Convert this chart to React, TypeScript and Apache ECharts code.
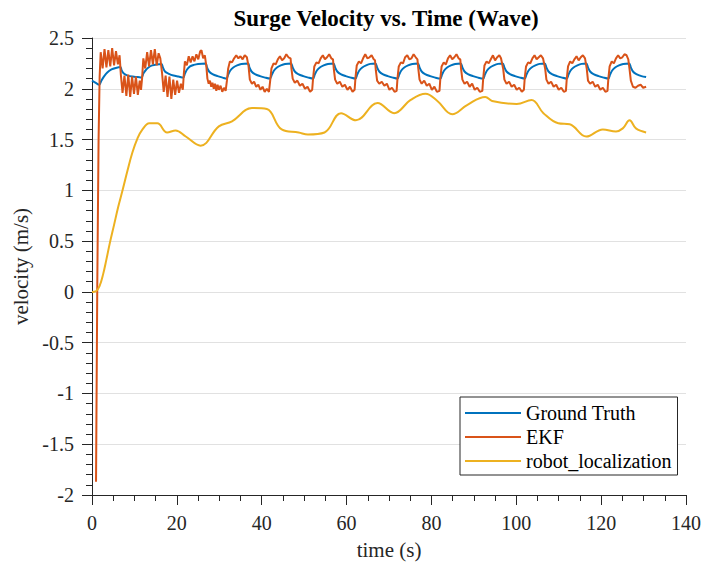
import React, { useEffect, useRef } from "react";
import * as echarts from "echarts";

const FONT = '"Liberation Serif", "Times New Roman", serif';

const seriesNames = ["Ground Truth", "EKF", "robot_localization"];
const seriesColors = ["#0072BD", "#D95319", "#EDB120"];

const gtPoints: [number, number][] = [
  [0, 2.08], [0.8, 2.06], [1.7, 2.04], [2.2, 2.08], [2.8, 2.12], [3.6, 2.16], [4.6, 2.19], [5.6, 2.205], [6.7, 2.215],
  [7.0, 2.18], [7.5, 2.15], [8.4, 2.13], [9.6, 2.12], [10.8, 2.115], [11.7, 2.11],
  [12.1, 2.15], [12.6, 2.18], [13.3, 2.21], [14.2, 2.23], [15.2, 2.24], [16.4, 2.245], [16.7, 2.21], [17.2, 2.17], [18.0, 2.15], [19.2, 2.13], [20.4, 2.12], [21.5, 2.11],
  [21.9, 2.15], [22.4, 2.19], [23.1, 2.22], [24.0, 2.235], [25.0, 2.245], [26.8, 2.25], [27.1, 2.21], [27.6, 2.17], [28.4, 2.145], [29.6, 2.125], [30.8, 2.11], [31.7, 2.1],
  [32.1, 2.14], [32.6, 2.18], [33.3, 2.21], [34.2, 2.23], [35.2, 2.245], [36.8, 2.25], [37.1, 2.21], [37.6, 2.17], [38.4, 2.145], [39.6, 2.125], [40.8, 2.11], [41.9, 2.1],
  [42.4, 2.14], [42.9, 2.18], [43.6, 2.21], [44.5, 2.23], [45.5, 2.245], [46.9, 2.25], [47.3, 2.21], [47.8, 2.17], [48.6, 2.145], [49.8, 2.125], [51.0, 2.11], [52.1, 2.1],
  [52.5, 2.14], [53.0, 2.18], [53.7, 2.21], [54.6, 2.23], [55.6, 2.245], [56.9, 2.25], [57.3, 2.21], [57.8, 2.17], [58.6, 2.145], [59.8, 2.125], [61.0, 2.11], [62.1, 2.1],
  [62.5, 2.14], [63.0, 2.18], [63.7, 2.21], [64.6, 2.23], [65.6, 2.245], [66.8, 2.25], [67.2, 2.21], [67.7, 2.17], [68.5, 2.145], [69.7, 2.125], [70.9, 2.11], [72.0, 2.1],
  [72.4, 2.14], [72.9, 2.18], [73.6, 2.21], [74.5, 2.23], [75.5, 2.245], [76.8, 2.25], [77.2, 2.21], [77.7, 2.17], [78.5, 2.145], [79.7, 2.125], [80.9, 2.11], [82.1, 2.1],
  [82.5, 2.14], [83.0, 2.18], [83.7, 2.21], [84.6, 2.23], [85.6, 2.245], [86.9, 2.25], [87.3, 2.21], [87.8, 2.17], [88.6, 2.145], [89.8, 2.125], [91.0, 2.11], [92.2, 2.1],
  [92.6, 2.14], [93.1, 2.18], [93.8, 2.21], [94.7, 2.23], [95.7, 2.245], [96.8, 2.25], [97.2, 2.21], [97.7, 2.17], [98.5, 2.145], [99.7, 2.125], [100.9, 2.11], [102.0, 2.1],
  [102.4, 2.14], [102.9, 2.18], [103.6, 2.21], [104.5, 2.23], [105.5, 2.245], [106.7, 2.25], [107.1, 2.21], [107.6, 2.17], [108.4, 2.145], [109.6, 2.125], [110.8, 2.11], [111.9, 2.1],
  [112.3, 2.14], [112.8, 2.18], [113.5, 2.21], [114.4, 2.23], [115.4, 2.245], [116.5, 2.25], [116.9, 2.21], [117.4, 2.17], [118.2, 2.145], [119.4, 2.125], [120.6, 2.11], [121.7, 2.1],
  [122.1, 2.14], [122.6, 2.18], [123.3, 2.21], [124.2, 2.23], [125.2, 2.245], [126.6, 2.25], [127.0, 2.21], [127.5, 2.17], [128.3, 2.145], [129.5, 2.125], [130.6, 2.115],
];

const ekfPoints: [number, number][] = [
  [0.95, -1.87], [1.25, 0.1], [1.55, 1.5], [1.8, 2.12],
  [2.05, 2.36], [2.5, 2.2], [2.95, 2.39], [3.4, 2.21], [3.85, 2.38], [4.3, 2.22], [4.75, 2.4], [5.2, 2.23], [5.65, 2.37], [6.1, 2.24], [6.5, 2.33],
  [6.8, 2.14], [7.2, 1.96], [7.65, 2.13], [8.1, 1.93], [8.55, 2.14], [9.0, 1.92], [9.45, 2.12], [9.9, 1.95], [10.35, 2.12], [10.8, 1.94], [11.25, 2.08], [11.55, 1.99],
  [11.8, 2.1], [12.1, 2.3], [12.55, 2.2], [13.0, 2.36], [13.45, 2.22], [13.9, 2.38], [14.35, 2.24], [14.8, 2.39], [15.25, 2.23], [15.7, 2.35], [16.1, 2.3],
  [16.5, 2.16], [16.9, 1.97], [17.35, 2.13], [17.8, 1.92], [18.25, 2.12], [18.7, 1.9], [19.15, 2.09], [19.6, 1.94], [20.05, 2.08], [20.5, 1.96], [20.95, 2.05], [21.4, 1.99],
  [21.65, 2.15], [21.9, 2.27], [22.35, 2.23], [22.8, 2.32], [23.25, 2.26], [23.7, 2.32], [24.15, 2.27], [24.6, 2.34], [25.05, 2.29], [25.5, 2.37], [25.8, 2.38], [26.2, 2.3], [26.6, 2.33], [26.95, 2.22],
  [27.2, 2.1], [27.5, 2.05], [27.8, 2.08], [28.1, 2.02], [28.4, 2.06], [28.7, 2.0], [29.0, 2.05], [29.3, 1.98], [29.6, 2.04], [29.9, 1.99], [30.3, 2.03], [30.7, 1.97], [31.1, 2.01], [31.5, 1.98],
  [31.8, 2.08], [32.1, 2.2], [32.5, 2.27], [33.0, 2.26], [33.5, 2.3], [34.0, 2.33], [34.5, 2.3], [35.0, 2.32], [35.5, 2.29], [36.0, 2.33], [36.5, 2.31], [36.9, 2.22],
  [37.2, 2.09], [37.7, 2.05], [38.2, 2.07], [38.7, 2.02], [39.2, 2.04], [39.7, 1.99], [40.2, 2.02], [40.7, 1.97], [41.2, 2.0], [41.7, 1.97],
  [42.0, 2.08], [42.3, 2.2], [42.8, 2.25], [43.3, 2.24], [43.8, 2.29], [44.3, 2.32], [44.8, 2.28], [45.3, 2.3], [45.8, 2.34], [46.3, 2.31], [46.8, 2.3], [47.0, 2.2],
  [47.3, 2.1], [47.8, 2.06], [48.4, 2.08], [49.0, 2.03], [49.6, 2.05], [50.2, 2.0], [50.8, 2.02], [51.4, 1.97], [51.9, 1.99],
  [52.1, 2.1], [52.4, 2.22], [52.9, 2.26], [53.4, 2.25], [53.9, 2.3], [54.4, 2.33], [54.9, 2.29], [55.4, 2.31], [55.9, 2.34], [56.4, 2.3], [56.8, 2.29], [57.0, 2.19],
  [57.3, 2.09], [57.8, 2.05], [58.4, 2.07], [59.0, 2.02], [59.6, 2.04], [60.2, 1.99], [60.8, 2.02], [61.4, 1.97], [61.9, 1.99],
  [62.1, 2.11], [62.4, 2.23], [62.9, 2.27], [63.4, 2.25], [63.9, 2.3], [64.4, 2.34], [64.9, 2.3], [65.4, 2.31], [65.9, 2.33], [66.4, 2.29], [66.7, 2.28], [66.9, 2.18],
  [67.2, 2.08], [67.7, 2.05], [68.3, 2.07], [68.9, 2.03], [69.5, 2.05], [70.1, 1.99], [70.7, 2.01], [71.3, 1.97], [71.8, 1.98],
  [72.0, 2.1], [72.3, 2.22], [72.8, 2.26], [73.3, 2.25], [73.8, 2.31], [74.3, 2.33], [74.8, 2.29], [75.3, 2.3], [75.8, 2.34], [76.3, 2.31], [76.7, 2.29], [76.9, 2.2],
  [77.2, 2.09], [77.7, 2.05], [78.3, 2.08], [78.9, 2.03], [79.5, 2.05], [80.1, 1.99], [80.7, 2.02], [81.3, 1.97], [81.9, 1.98],
  [82.1, 2.1], [82.4, 2.22], [82.9, 2.26], [83.4, 2.24], [83.9, 2.3], [84.4, 2.33], [84.9, 2.29], [85.4, 2.31], [85.9, 2.34], [86.4, 2.3], [86.8, 2.29], [87.0, 2.19],
  [87.3, 2.09], [87.8, 2.05], [88.4, 2.07], [89.0, 2.02], [89.6, 2.05], [90.2, 1.99], [90.8, 2.01], [91.4, 1.97], [92.0, 1.98],
  [92.2, 2.1], [92.5, 2.23], [93.0, 2.27], [93.5, 2.25], [94.0, 2.29], [94.5, 2.33], [95.0, 2.28], [95.5, 2.31], [96.0, 2.33], [96.4, 2.3], [96.9, 2.2],
  [97.2, 2.09], [97.7, 2.05], [98.3, 2.07], [98.9, 2.02], [99.5, 2.04], [100.1, 1.99], [100.7, 2.01], [101.3, 1.97], [101.8, 1.99],
  [102.0, 2.11], [102.3, 2.22], [102.8, 2.26], [103.3, 2.25], [103.8, 2.3], [104.3, 2.33], [104.8, 2.29], [105.3, 2.31], [105.8, 2.33], [106.3, 2.3], [106.8, 2.2],
  [107.1, 2.09], [107.6, 2.05], [108.2, 2.07], [108.8, 2.02], [109.4, 2.04], [110.0, 1.99], [110.6, 2.01], [111.2, 1.97], [111.7, 1.98],
  [111.9, 2.1], [112.2, 2.22], [112.7, 2.27], [113.2, 2.25], [113.7, 2.29], [114.2, 2.32], [114.7, 2.28], [115.2, 2.31], [115.7, 2.33], [116.2, 2.3], [116.6, 2.2],
  [116.9, 2.08], [117.4, 2.05], [118.0, 2.07], [118.6, 2.02], [119.2, 2.04], [119.8, 1.99], [120.4, 2.01], [121.0, 1.97], [121.5, 1.98],
  [121.7, 2.1], [122.0, 2.22], [122.5, 2.27], [123.0, 2.25], [123.5, 2.3], [124.0, 2.33], [124.5, 2.3], [125.0, 2.31], [125.5, 2.34], [126.0, 2.33], [126.4, 2.29], [126.7, 2.19],
  [127.0, 2.08], [127.5, 2.02], [128.1, 2.01], [128.7, 2.03], [129.3, 2.04], [129.9, 2.01], [130.6, 2.02],
];

const rlPoints: [number, number][] = [
  [0, 0.0], [0.9, 0.005], [1.8, 0.06], [2.6, 0.17], [3.4, 0.32], [4.2, 0.48], [5.2, 0.66], [6.2, 0.84], [7.2, 1.0], [8.4, 1.2],
  [9.5, 1.37], [10.7, 1.51], [11.9, 1.6], [13.5, 1.66],
  [15.4, 1.66], [17.7, 1.57], [19.7, 1.59], [22.1, 1.53], [25.6, 1.44], [29.9, 1.63], [33.0, 1.68], [37.7, 1.81], [41.2, 1.8],
  [44.7, 1.6], [48.7, 1.57], [50.9, 1.55], [54.8, 1.57], [58.7, 1.76], [62.2, 1.69], [67.3, 1.86], [71.2, 1.76], [75.1, 1.89],
  [78.6, 1.95], [81.4, 1.88], [84.9, 1.75], [88.4, 1.84], [92.7, 1.92], [94.3, 1.88], [100.1, 1.85], [103.6, 1.89], [106.4, 1.76],
  [109.9, 1.66], [112.6, 1.65], [116.5, 1.53], [120.4, 1.6], [123.5, 1.58], [125.1, 1.61], [126.7, 1.69], [128.2, 1.61], [130.6, 1.57],
];

const xAxisRange = { min: 0, max: 140, step: 20 };
const yAxisRange = { min: -2, max: 2.5, step: 0.5 };

export default function App() {
  const ref = useRef<HTMLDivElement>(null);
  useEffect(() => {
    if (!ref.current) return;
    const chart = echarts.init(ref.current, null, { renderer: "svg" });
    const axisColor = "#262626";
    chart.setOption({
      animation: false,
      backgroundColor: "#ffffff",
      textStyle: { fontFamily: FONT },
      graphic: [
        {
          type: "text",
          x: 386,
          y: 18,
          style: {
            text: "Surge Velocity vs. Time (Wave)",
            fontFamily: FONT,
            fontSize: 23,
            fontWeight: "bold",
            fill: "#000",
            align: "center",
            verticalAlign: "middle",
          },
        },
      ],
      grid: { left: 92, right: 14, top: 38, bottom: 73, containLabel: false },
      xAxis: {
        type: "value",
        min: xAxisRange.min,
        max: xAxisRange.max,
        interval: xAxisRange.step,
        name: "time (s)",
        nameLocation: "middle",
        nameGap: 44,
        nameTextStyle: { fontFamily: FONT, fontSize: 21, color: axisColor },
        axisLine: { show: true, onZero: false, lineStyle: { color: axisColor, width: 1 } },
        axisTick: { show: true, inside: false, length: 10, lineStyle: { color: axisColor } },
        minorTick: { show: true, splitNumber: 4, length: 6, lineStyle: { color: axisColor } },
        splitLine: { show: false },
        axisLabel: { fontFamily: FONT, fontSize: 20, color: axisColor, margin: 18 },
      },
      yAxis: {
        type: "value",
        min: yAxisRange.min,
        max: yAxisRange.max,
        interval: yAxisRange.step,
        name: "velocity (m/s)",
        nameLocation: "middle",
        nameGap: 60,
        nameTextStyle: { fontFamily: FONT, fontSize: 21, color: axisColor },
        axisLine: { show: true, onZero: false, lineStyle: { color: axisColor, width: 1 } },
        axisTick: { show: true, inside: false, length: 10, lineStyle: { color: axisColor } },
        minorTick: { show: true, splitNumber: 5, length: 6, lineStyle: { color: axisColor } },
        splitLine: { show: true, lineStyle: { color: "#e1e1e1", width: 1 } },
        axisLabel: { fontFamily: FONT, fontSize: 20, color: axisColor, margin: 18 },
      },
      legend: {
        orient: "vertical",
        left: 460,
        top: 397,
        padding: [4, 6, 2, 5],
        itemGap: 0,
        itemWidth: 56,
        itemHeight: 2,
        icon: "rect",
        backgroundColor: "#ffffff",
        borderColor: axisColor,
        borderWidth: 1,
        borderRadius: 0,
        textStyle: { fontFamily: FONT, fontSize: 20, color: "#000", lineHeight: 24 },
        data: seriesNames,
      },
      series: [
        {
          name: seriesNames[0],
          type: "line",
          data: gtPoints,
          showSymbol: false,
          symbol: "none",
          smooth: 0.3,
          color: seriesColors[0],
          lineStyle: { width: 2, color: seriesColors[0] },
          z: 2,
        },
        {
          name: seriesNames[1],
          type: "line",
          data: ekfPoints,
          showSymbol: false,
          symbol: "none",
          color: seriesColors[1],
          lineStyle: { width: 2, color: seriesColors[1] },
          z: 3,
        },
        {
          name: seriesNames[2],
          type: "line",
          data: rlPoints,
          showSymbol: false,
          symbol: "none",
          smooth: 0.4,
          color: seriesColors[2],
          lineStyle: { width: 2, color: seriesColors[2] },
          z: 4,
        },
      ],
    });
    return () => chart.dispose();
  }, []);
  return (
    <div
      ref={ref}
      style={{ position: "fixed", left: 0, top: 0, width: 704, height: 568, background: "#fff" }}
    />
  );
}
